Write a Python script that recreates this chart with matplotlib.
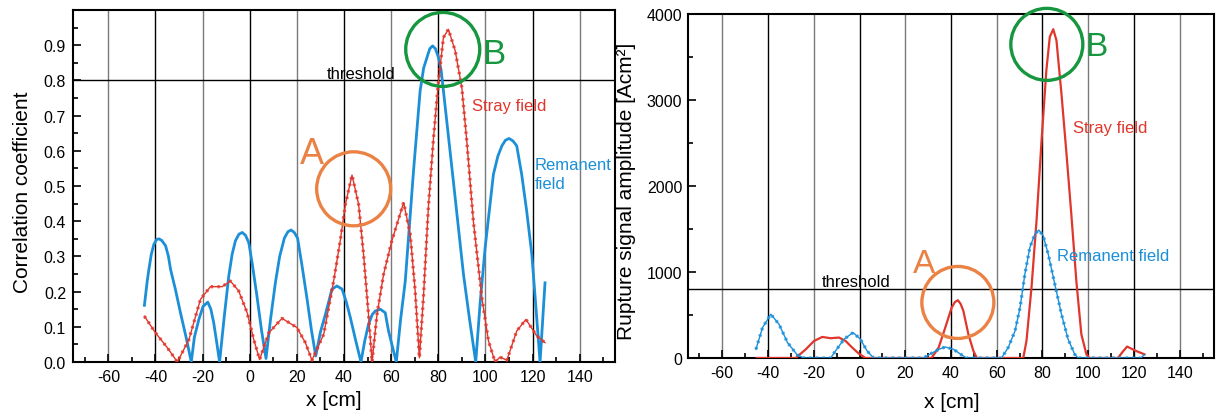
import matplotlib
matplotlib.use("Agg")
import matplotlib.pyplot as plt
from matplotlib.patches import Ellipse
from matplotlib.ticker import MultipleLocator, FixedLocator

plt.rcParams['font.family'] = ['Liberation Sans', 'DejaVu Sans']
plt.rcParams['axes.unicode_minus'] = False

# ---------------- data (left: correlation coefficient) ----------------
x_rem_corr = [-44.7, -43.5, -42.8, -41.8, -40.7, -39.5, -38.5, -37.3, -35.7, -34.5, -33.6, -31.5, -29.4,
              -27.0, -24.8,
              -23.5, -21.6, -19.8, -17.8, -16.5, -15.3, -14.0, -12.8,
              -10.8, -8.9, -7.5, -6.1, -4.6, -3.2, -1.8, -0.4, 1.0, 3.0, 5.0, 6.9,
              8.8, 10.9, 12.7, 14.7, 16.2, 17.5, 18.9, 20.3, 22.2, 24.3, 26.2, 28.0,
              30.0, 32.1, 34.9, 37.0, 39.2, 41.0, 42.7, 45.0, 47.2,
              48.8, 50.4, 52.0, 53.3, 55.4, 57.5, 58.9, 60.5, 62.2,
              64.0, 66.0, 69.5, 72.3, 73.8, 75.2, 76.4, 77.6, 78.8, 80.1, 81.2, 82.2, 86.4, 90.7,
              93.3, 95.9,
              97.8, 99.9, 103.4, 105.3, 107.0, 108.5, 110.0, 111.7, 113.3, 115.4, 117.5, 119.7,
              121.5, 123.2, 125.3]
y_rem_corr = [0.161, 0.230, 0.263, 0.305, 0.334, 0.348, 0.350, 0.345, 0.330, 0.300, 0.263, 0.205, 0.140,
              0.070, 0.0,
              0.070, 0.121, 0.158, 0.170, 0.150, 0.112, 0.055, 0.0,
              0.130, 0.244, 0.305, 0.344, 0.363, 0.368, 0.360, 0.339, 0.282, 0.190, 0.090, 0.010,
              0.120, 0.226, 0.300, 0.352, 0.370, 0.375, 0.368, 0.352, 0.273, 0.180, 0.090, 0.017,
              0.085, 0.135, 0.207, 0.216, 0.207, 0.170, 0.126, 0.060, 0.0,
              0.060, 0.107, 0.135, 0.145, 0.150, 0.140, 0.088, 0.045, 0.0,
              0.120, 0.230, 0.543, 0.770, 0.835, 0.865, 0.890, 0.898, 0.890, 0.865, 0.830, 0.770, 0.514, 0.249,
              0.120, 0.0,
              0.170, 0.325, 0.533, 0.585, 0.614, 0.630, 0.635, 0.628, 0.614, 0.533, 0.430, 0.306,
              0.150, 0.0, 0.225]

x_stray_corr = [-44.7, -40.0, -35.0, -30.7, -25.8, -20.9, -16.7, -11.7, -8.2, -4.7, -1.1, 1.7, 4.2,
                8.1, 13.7, 20.0, 23.6, 26.4, 31.4, 35.6, 38.4, 40.6, 43.4, 46.2, 48.3, 50.4, 51.9,
                54.0, 56.8, 60.3, 65.3, 68.1, 70.2, 72.0, 73.7, 75.8, 78.0, 80.1, 82.2, 84.3, 87.2,
                90.0, 92.1, 94.9, 98.5, 101.3, 104.1, 106.2, 109.1, 113.3, 117.2, 121.8, 125.3]
y_stray_corr = [0.130, 0.083, 0.041, 0.0, 0.064, 0.178, 0.214, 0.214, 0.230, 0.202, 0.140, 0.064, 0.007,
                0.083, 0.124, 0.098, 0.055, 0.005, 0.079, 0.230, 0.344, 0.448, 0.531, 0.448, 0.306, 0.135, 0.0,
                0.135, 0.249, 0.344, 0.453, 0.363, 0.202, 0.012, 0.183, 0.439, 0.637, 0.798, 0.922, 0.945, 0.884,
                0.780, 0.628, 0.400, 0.183, 0.060, 0.0, 0.014, 0.005, 0.088, 0.121, 0.074, 0.055]

# ---------------- data (right: rupture signal amplitude) ----------------
x_stray_amp = [-45.0, -27.9, -23.5, -19.9, -16.3, -12.6, -9.0, -6.1, -3.2, -0.3, 2.6, 31.5, 34.6,
               37.5, 40.3, 41.7, 43.0, 44.2, 45.4, 47.6, 49.8, 51.3, 71.6, 73.0, 75.2, 77.4, 79.6, 81.7, 83.2,
               84.7, 86.1, 88.3, 90.5, 92.6, 94.8, 97.0, 99.2, 100.6, 113.0, 115.0, 117.0, 120.9, 124.6]
y_stray_amp = [0, 0, 101, 198, 245, 230, 238, 198, 121, 51, 0, 0, 121,
               354, 587, 650, 672, 630, 548, 276, 82, 0, 0, 198, 820, 1597, 2530, 3345, 3734,
               3823, 3695, 3073, 2374, 1675, 897, 276, 43, 0, 0, 70, 133, 82, 43]

x_rem_amp = [-45.3, -42.4, -38.8, -35.2, -31.5, -27.2, -24.3, -12.6, -10.5, -6.8, -2.8, 0.4, 3.3,
             6.2, 28.0, 30.2, 34.6, 37.5, 41.1, 44.7, 46.8, 62.1, 65.0, 68.0, 70.2, 72.3, 74.5,
             76.7, 78.4, 80.3, 82.5, 85.4, 88.3, 91.2, 94.1, 95.6, 123.0, 124.6]
y_rem_amp = [101, 354, 509, 393, 180, 35, 0, 0, 82, 218, 296, 218, 82,
             0, 0, 35, 101, 128, 101, 35, 0, 0, 121, 315, 587, 975, 1287,
             1442, 1488, 1422, 1209, 859, 509, 218, 43, 0, 0, 40]

x_ticks = [-60, -40, -20, 0, 20, 40, 60, 80, 100, 120, 140]
corr_ticks = [0.0, 0.1, 0.2, 0.3, 0.4, 0.5, 0.6, 0.7, 0.8, 0.9]
amp_ticks = [0, 1000, 2000, 3000, 4000]
corr_threshold = 0.8
amp_threshold = 800

BLUE = '#1B8FD8'
RED = '#E0362C'
ORANGE = '#EB8245'
GREEN = '#16963E'

W, H = 1216, 414
fig = plt.figure(figsize=(W / 100, H / 100), dpi=100)


def px_axes(x0, y0, x1, y1):
    return fig.add_axes([x0 / W, 1 - y1 / H, (x1 - x0) / W, (y1 - y0) / H])


def circle(ax, cx, cy, r_px, color):
    x0, x1 = ax.get_xlim()
    y0, y1 = ax.get_ylim()
    bb = ax.get_position()
    w = 2 * r_px * (x1 - x0) / (bb.width * W)
    h = 2 * r_px * (y1 - y0) / (bb.height * H)
    ax.add_patch(Ellipse((cx, cy), w, h, fill=False, ec=color, lw=2.4, clip_on=False, zorder=5))


def style(ax):
    ax.set_xlim(-75, 155)
    for i, xv in enumerate(x_ticks):
        ax.axvline(xv, color='#7a7a7a' if i % 2 == 0 else '#000000', lw=1.0, zorder=1)
    ax.xaxis.set_major_locator(FixedLocator(x_ticks))
    ax.xaxis.set_minor_locator(MultipleLocator(10))
    ax.tick_params(which='both', direction='in', top=False, right=False, labelsize=11.5, width=1.2)
    ax.tick_params(which='major', length=6, pad=5)
    ax.tick_params(which='minor', length=3.5)
    for s in ax.spines.values():
        s.set_linewidth(1.5)


def dotted_line(ax, x, y, color, lw_core, z):
    ax.plot(x, y, color=color, lw=lw_core, zorder=z)
    ax.plot(x, y, color=color, lw=2.4, linestyle=(0, (0.7, 1.3)), alpha=0.8, zorder=z)


# ---------------- left panel ----------------
ax1 = px_axes(73, 11, 615, 363)
ax1.set_ylim(0, 1.0)
style(ax1)
ax1.yaxis.set_major_locator(FixedLocator(corr_ticks))
ax1.yaxis.set_minor_locator(MultipleLocator(0.05))
ax1.set_yticklabels([f"{t:.1f}" for t in corr_ticks])
ax1.axhline(corr_threshold, color='black', lw=1.0, zorder=1)

ax1.plot(x_rem_corr, y_rem_corr, color=BLUE, lw=2.0, zorder=3, solid_joinstyle='round')
dotted_line(ax1, x_stray_corr, y_stray_corr, RED, 1.0, 4)

ax1.text(32.8, 0.808, 'threshold', fontsize=12, color='black', ha='left', va='baseline')
ax1.text(94.2, 0.716, 'Stray field', fontsize=12, color=RED, ha='left', va='baseline')
ax1.text(121, 0.547, 'Remanent', fontsize=12, color=BLUE, ha='left', va='baseline')
ax1.text(121, 0.495, 'field', fontsize=12, color=BLUE, ha='left', va='baseline')
ax1.text(26.4, 0.566, 'A', fontsize=26, color=ORANGE, ha='center', va='baseline')
ax1.text(98.5, 0.85, 'B', fontsize=25, color=GREEN, ha='left', va='baseline')
circle(ax1, 44.1, 0.492, 37, ORANGE)
circle(ax1, 81.9, 0.888, 37, GREEN)

# ---------------- right panel ----------------
ax2 = px_axes(688, 15, 1214, 359)
ax2.set_ylim(0, 4000)
style(ax2)
ax2.yaxis.set_major_locator(FixedLocator(amp_ticks))
ax2.yaxis.set_minor_locator(MultipleLocator(500))
ax2.set_yticklabels([str(t) for t in amp_ticks])
ax2.tick_params(axis='y', which='major', pad=4)
ax2.axhline(amp_threshold, color='black', lw=1.0, zorder=1)

ax2.plot(x_stray_amp, y_stray_amp, color=RED, lw=1.6, zorder=3)
dotted_line(ax2, x_rem_amp, y_rem_amp, BLUE, 1.0, 4)

ax2.text(-16.3, 840, 'threshold', fontsize=12, color='black', ha='left', va='baseline')
ax2.text(93.4, 2627, 'Stray field', fontsize=12, color=RED, ha='left', va='baseline')
ax2.text(86.5, 1142, 'Remanent field', fontsize=12, color=BLUE, ha='left', va='baseline')
ax2.text(28.4, 995, 'A', fontsize=24, color=ORANGE, ha='center', va='baseline')
ax2.text(98.5, 3528, 'B', fontsize=24, color=GREEN, ha='left', va='baseline')
circle(ax2, 43.0, 646, 36, ORANGE)
circle(ax2, 81.9, 3647, 36, GREEN)

# ---------------- axis labels ----------------
fig.text(23 / W, 1 - 192.5 / H, 'Correlation coefficient', rotation=90, fontsize=15,
         ha='center', va='center')
fig.text(627 / W, 1 - 191.7 / H, 'Rupture signal amplitude [Acm²]', rotation=90, fontsize=15,
         ha='center', va='center')
fig.text(334 / W, 1 - 401 / H, 'x [cm]', fontsize=15, ha='center', va='center')
fig.text(952 / W, 1 - 403 / H, 'x [cm]', fontsize=15, ha='center', va='center')

fig.savefig('out.png', dpi=100)
